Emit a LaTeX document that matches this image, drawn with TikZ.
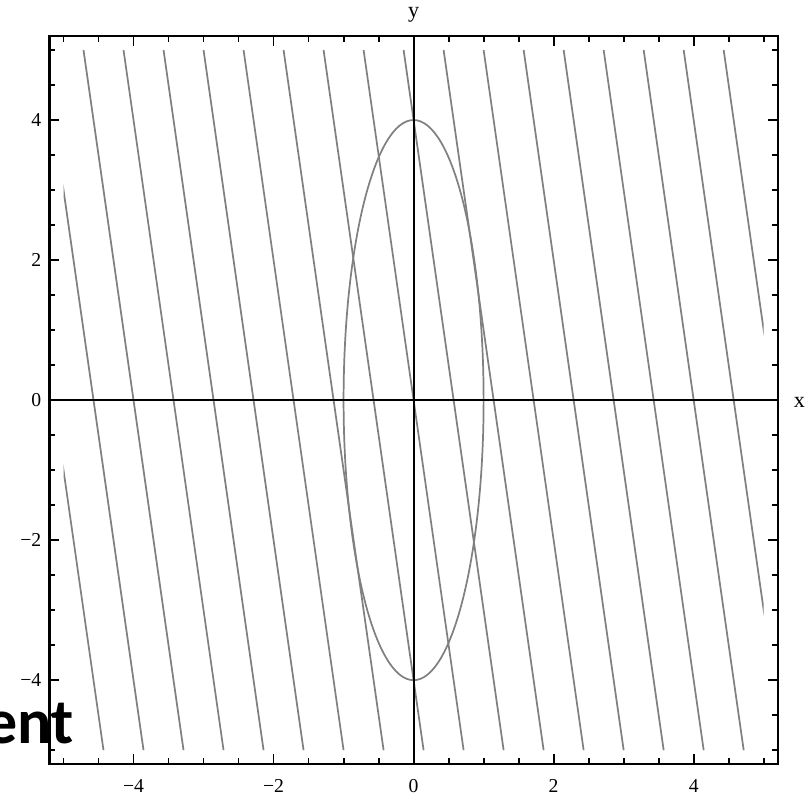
\documentclass[tikz,border=0pt]{standalone}
\usepackage{fontspec}
\setmainfont{Liberation Serif}
\newfontfamily\slidefont{Carlito}
\usepackage{xcolor}
\usepackage{tikz}

\begin{document}
\begin{tikzpicture}[
    level/.style={draw=black!50, line width=0.7pt},
    frameline/.style={draw=black, line width=0.9pt},
    axisline/.style={draw=black, line width=0.85pt},
    tickmark/.style={draw=black, line width=0.75pt},
    ticklabel/.style={inner sep=0pt, font=\fontsize{8}{9}\selectfont},
    axislabel/.style={inner sep=0pt, font=\fontsize{9}{10}\selectfont},
    slidetext/.style={inner sep=0pt, font=\slidefont\bfseries\fontsize{26}{30}\selectfont}
]
\useasboundingbox (-5.907,-5.657) rectangle (5.604,5.714);
\clip (-5.907,-5.657) rectangle (5.604,5.714);

\begin{scope}
    \clip (-5,-5) rectangle (5,5);
    \foreach \n in {-9,...,9}
        \draw[level] ({(4*\n-5)/7},5) -- ({(4*\n+5)/7},-5);
\end{scope}
\draw[level] (0,0) ellipse (1 and 4);

\draw[axisline] (-5.2,0) -- (5.2,0);
\draw[axisline] (0,-5.2) -- (0,5.2);

\foreach \t in {-5,-4.5,-3.5,-3,-2.5,-1.5,-1,-0.5,0.5,1,1.5,2.5,3,3.5,4.5,5}
    \draw[tickmark] (\t,-5.2) -- ++(0,0.085) (\t,5.2) -- ++(0,-0.085)
        (-5.2,\t) -- ++(0.085,0) (5.2,\t) -- ++(-0.085,0);
\foreach \t in {-4,-2,0,2,4}
    \draw[tickmark] (\t,-5.2) -- ++(0,0.14) (\t,5.2) -- ++(0,-0.14)
        (-5.2,\t) -- ++(0.14,0) (5.2,\t) -- ++(-0.14,0);

\draw[frameline] (-5.2,-5.2) rectangle (5.2,5.2);

\foreach \v/\s in {-4/−4,-2/−2,0/0,2/2,4/4} {
    \node[ticklabel, anchor=north] (xt\v) at (\v,-5.41) {\s};
    \node[ticklabel, anchor=east] (yt\v) at (-5.31,\v) {\s};
}

\node[axislabel, anchor=base] (ylab) at (0,5.47) {y};
\node[axislabel, anchor=base] (xlab) at (5.51,-0.1) {x};

\node[slidetext, anchor=base east] (cut) at (-4.85,-4.9) {ent};

\end{tikzpicture}
\end{document}
